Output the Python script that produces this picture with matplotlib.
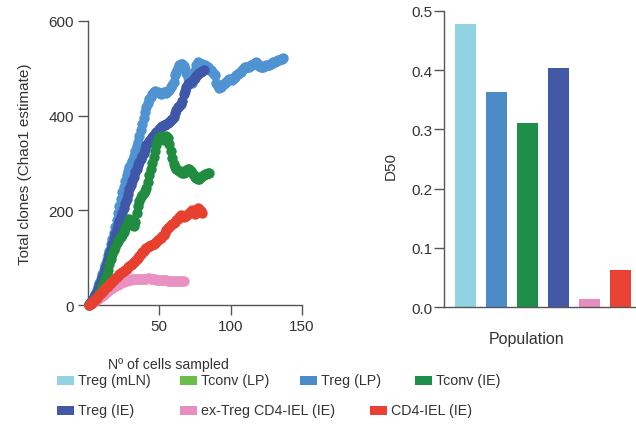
import matplotlib
matplotlib.use("Agg")
import matplotlib.pyplot as plt
import matplotlib.patches as mpatches

plt.rcParams['font.family'] = ['Liberation Sans', 'DejaVu Sans']

W, H = 636, 427

# ---------------- data ----------------
treg_lp_x = list(range(1, 138))
treg_lp_y = [2, 6, 11, 17, 24, 31, 38, 46, 55, 65, 75, 85, 95, 105, 115, 128, 140, 152, 165, 180,
             195, 210, 225, 238, 250, 263, 275, 284, 292, 298, 305, 315, 325, 335, 345, 358, 370, 382, 395, 407,
             418, 427, 435, 440, 445, 450, 452, 451, 450, 447, 445, 448, 450, 449, 448, 452, 455, 460, 465, 472,
             485, 493, 500, 506, 510, 510, 505, 498, 490, 482, 476, 472, 470, 480, 495, 508, 513, 512, 510, 509,
             508, 506, 503, 502, 499, 496, 492, 488, 485, 470, 462, 458, 460, 464, 466, 470, 472, 475, 478, 477,
             476, 480, 482, 485, 487, 490, 493, 497, 500, 502, 503, 502, 503, 506, 508, 510, 512, 513, 510, 505,
             503, 502, 503, 505, 506, 506, 507, 509, 511, 513, 514, 516, 517, 517, 519, 520, 521]

treg_ie_x = list(range(1, 82))
treg_ie_y = [2, 6, 10, 16, 22, 28, 34, 42, 50, 59, 68, 78, 88, 98, 108, 118, 128, 139, 150, 160,
             170, 178, 185, 195, 205, 215, 225, 235, 245, 254, 262, 271, 280, 288, 295, 302, 308, 315, 322, 330,
             338, 343, 347, 351, 355, 359, 362, 365, 368, 372, 375, 378, 380, 381, 383, 385, 387, 390, 393, 398,
             405, 412, 418, 421, 425, 432, 445, 452, 460, 466, 470, 472, 474, 477, 480, 484, 487, 490, 492, 494,
             496]

tconv_ie_x = list(range(1, 86))
tconv_ie_y = [1, 4, 7, 10, 13, 17, 21, 26, 32, 40, 48, 56, 65, 75, 86, 97, 108, 116, 123, 130,
              135, 139, 143, 148, 155, 163, 170, 176, 181, 178, 170, 167, 176, 195, 210, 220, 228, 233, 236, 240,
              247, 260, 275, 287, 300, 312, 325, 337, 348, 355, 358, 352, 348, 352, 358, 352, 340, 325, 310, 298,
              292, 288, 285, 283, 281, 279, 278, 281, 285, 288, 287, 283, 278, 274, 271, 268, 266, 267, 270, 273,
              275, 277, 277, 278, 278]

cd4iel_x = list(range(1, 81))
cd4iel_y = [1, 3, 6, 9, 12, 15, 18, 22, 25, 28, 31, 35, 38, 41, 44, 47, 50, 53, 56, 59,
            62, 65, 67, 70, 72, 75, 77, 80, 82, 85, 87, 90, 93, 97, 100, 104, 108, 112, 115, 118,
            120, 122, 124, 126, 127, 128, 130, 133, 137, 140, 142, 145, 148, 153, 158, 162, 165, 169, 172, 174,
            176, 179, 182, 186, 190, 188, 186, 187, 188, 192, 195, 198, 200, 197, 193, 198, 204, 203, 198, 195]

extreg_x = list(range(1, 68))
extreg_y = [1, 2, 4, 6, 8, 10, 12, 15, 17, 20, 22, 25, 27, 30, 32, 34, 36, 38, 40, 42,
            43, 45, 46, 48, 49, 50, 51, 52, 53, 53, 54, 55, 55, 55, 55, 55, 55, 54, 54, 55,
            55, 56, 56, 55, 55, 54, 54, 53, 53, 53, 53, 52, 52, 52, 52, 51, 51, 51, 51, 51,
            51, 50, 50, 50, 50, 50, 50]

populations = ['Treg (mLN)', 'Treg (LP)', 'Tconv (IE)', 'Treg (IE)',
               'ex-Treg CD4-IEL (IE)', 'CD4-IEL (IE)']
d50 = [0.478, 0.363, 0.311, 0.403, 0.014, 0.062]

legend_labels = ['Treg (mLN)', 'Tconv (LP)', 'Treg (LP)', 'Tconv (IE)',
                 'Treg (IE)', 'ex-Treg CD4-IEL (IE)', 'CD4-IEL (IE)']

# ---------------- style ----------------
colors = {
    'Treg (mLN)': '#92d3e2',
    'Tconv (LP)': '#6bbd47',
    'Treg (LP)': '#4b8cc8',
    'Tconv (IE)': '#1d8f48',
    'Treg (IE)': '#4459a6',
    'ex-Treg CD4-IEL (IE)': '#e78dc0',
    'CD4-IEL (IE)': '#e94235',
}
scatter_colors = {
    'Treg (LP)': '#4f93d2',
    'Treg (IE)': '#3f57a8',
    'Tconv (IE)': '#1f8c3f',
    'CD4-IEL (IE)': '#e8402f',
    'ex-Treg CD4-IEL (IE)': '#e991c2',
}
spine_col = '#555555'
text_col = '#333333'

fig = plt.figure(figsize=(W / 100, H / 100), dpi=100)

def ax_rect(x0, y0, x1, y1):
    return [x0 / W, 1 - y1 / H, (x1 - x0) / W, (y1 - y0) / H]

# ---------------- left: rarefaction scatter ----------------
ax1 = fig.add_axes(ax_rect(88, 22, 302, 306))
s = 56
ax1.scatter(treg_lp_x, treg_lp_y, s=s, color=scatter_colors['Treg (LP)'], lw=0, clip_on=False, zorder=2)
ax1.scatter(treg_ie_x, treg_ie_y, s=s, color=scatter_colors['Treg (IE)'], lw=0, clip_on=False, zorder=3)
ax1.scatter(extreg_x, extreg_y, s=s, color=scatter_colors['ex-Treg CD4-IEL (IE)'], lw=0, clip_on=False, zorder=4)
ax1.scatter(tconv_ie_x, tconv_ie_y, s=s, color=scatter_colors['Tconv (IE)'], lw=0, clip_on=False, zorder=5)
ax1.scatter(cd4iel_x, cd4iel_y, s=s, color=scatter_colors['CD4-IEL (IE)'], lw=0, clip_on=False, zorder=6)
ax1.set_xlim(0, 150)
ax1.set_ylim(0, 600)
ax1.set_xticks([50, 100, 150])
ax1.set_yticks([0, 200, 400, 600])
for sp in ['top', 'right']:
    ax1.spines[sp].set_visible(False)
for sp in ['left', 'bottom']:
    ax1.spines[sp].set_color(spine_col)
    ax1.spines[sp].set_linewidth(1.0)
ax1.tick_params(colors=spine_col, labelcolor=text_col, labelsize=11, length=7.5, width=1.0, pad=2.5)
fig.text(25 / W, 1 - 164 / H, 'Total clones (Chao1 estimate)', fontsize=11, color=text_col,
         rotation=90, ha='center', va='center')

fig.text(108 / W, 1 - 365 / H, 'Nº of cells sampled', fontsize=10.2, color=text_col,
         ha='left', va='center')

# ---------------- right: D50 bars ----------------
ax2 = fig.add_axes(ax_rect(444, 12, 636, 308))
xpos = list(range(len(populations)))
ax2.bar(xpos, d50, width=0.68, color=[colors[p] for p in populations])
ax2.set_xlim(-0.694, 5.5)
ax2.set_ylim(0, 0.5)
ax2.set_yticks([0.0, 0.1, 0.2, 0.3, 0.4, 0.5])
ax2.set_yticklabels(['0.0', '0.1', '0.2', '0.3', '0.4', '0.5'])
ax2.set_xticks([])
for sp in ['top', 'right']:
    ax2.spines[sp].set_visible(False)
for sp in ['left', 'bottom']:
    ax2.spines[sp].set_color(spine_col)
    ax2.spines[sp].set_linewidth(1.0)
ax2.tick_params(colors=spine_col, labelcolor=text_col, labelsize=11, length=7, width=1.0, pad=1)
fig.text(391 / W, 1 - 166 / H, 'D50', fontsize=11, color=text_col, rotation=90,
         ha='center', va='center')
fig.text(527 / W, 1 - 340 / H, 'Population', fontsize=11.5, color=text_col,
         ha='center', va='center')

# ---------------- legend ----------------
legend_pos = [(57, 381), (180, 381), (300, 381), (415, 381),
              (57, 411.5), (180, 411.5), (370, 411.5)]
pw, ph = 17, 9
for lab, (px, py) in zip(legend_labels, legend_pos):
    fig.patches.append(mpatches.Rectangle((px / W, 1 - (py + ph / 2) / H), pw / W, ph / H,
                                          transform=fig.transFigure, color=colors[lab], lw=0))
    fig.text((px + pw + 4) / W, 1 - py / H, lab, fontsize=10.3, color=text_col,
             ha='left', va='center')

fig.savefig('out.png', dpi=100)
